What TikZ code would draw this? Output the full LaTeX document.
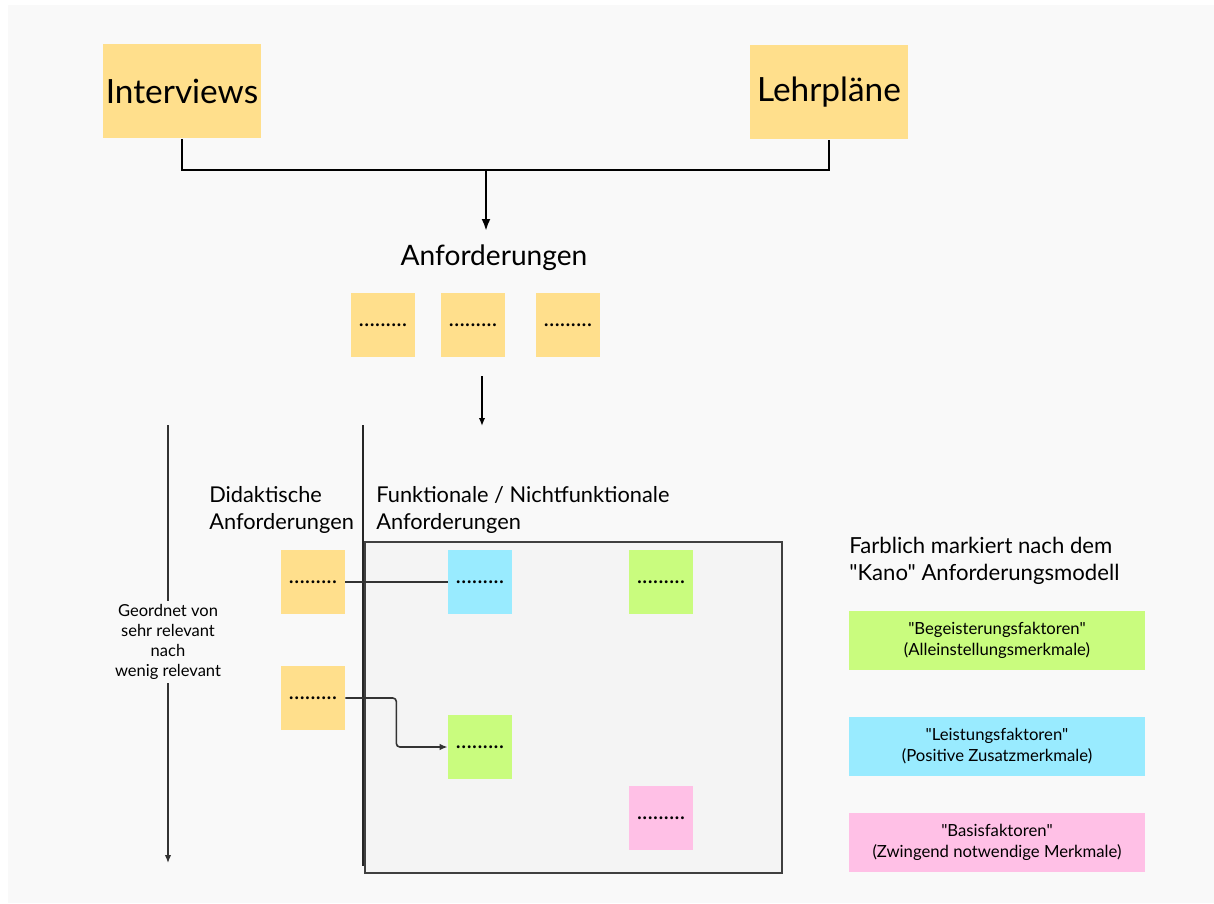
\documentclass[tikz,border=0pt]{standalone}
\usepackage{fontspec}
\setmainfont{Lato}[Ligatures=TeXOff]
\usepackage{xcolor}
\usetikzlibrary{arrows.meta,positioning}
\definecolor{bgcol}{HTML}{F9F9F9}
\definecolor{framefill}{HTML}{F4F4F4}
\definecolor{noteyellow}{HTML}{FFDF8C}
\definecolor{noteblue}{HTML}{99EBFF}
\definecolor{notegreen}{HTML}{C9FC7E}
\definecolor{notepink}{HTML}{FFC0E6}

\begin{document}
\begin{tikzpicture}[x=0.02cm,y=-0.02cm,
  source/.style={fill=noteyellow,minimum width=3.16cm,minimum height=1.9cm,inner sep=0pt,font=\fontsize{19}{23}\selectfont},
  note/.style={fill=#1,minimum width=1.28cm,minimum height=1.28cm,inner sep=0pt,font=\fontsize{13}{15}\selectfont},
  kano/.style={fill=#1,minimum width=5.92cm,minimum height=1.18cm,inner sep=0pt,align=center,font=\fontsize{9.5}{12}\selectfont},
  head/.style={anchor=north west,align=left,inner sep=0pt,font=\fontsize{12.4}{15.5}\selectfont},
  arr/.style={-{Latex[length=1.6mm,width=1.3mm]}}]
  % Background
  \fill[white] (0,0) rectangle (1214,903);
  \fill[bgcol] (8,5) rectangle (1214,903);
  % Sources
  \node[source] (iv) at (182,91) {Interviews};
  \node[source] (lp) at (829,92) {Lehrpläne};
  \coordinate (junc) at (486,170);
  \coordinate (anftop) at (486,231);
  \draw[line width=1.6pt] (iv.south) |- (junc) -| (lp.south);
  \draw[line width=1.6pt,-{Latex[length=2.4mm,width=1.8mm]}] (junc) -- (anftop);
  % Requirements
  \node[font=\fontsize{16}{19}\selectfont] (anf) at (494,258) {Anforderungen};
  \def\ry{325}
  \node[note=noteyellow] (ra) at (383,\ry) {.........};
  \node[note=noteyellow] (rb) at (473,\ry) {.........};
  \node[note=noteyellow] (rc) at (568,\ry) {.........};
  \coordinate (reqout) at (482,376);
  \coordinate (reqin) at (482,426);
  \draw[line width=0.9pt,arr] (reqout) -- (reqin);
  % Ranking axis and divider
  \coordinate (ranktop) at (168,425);
  \coordinate (rankend) at (168,863);
  \draw[line width=0.8pt,black!80,arr] (ranktop) -- (rankend);
  \node[fill=bgcol,align=center,inner sep=2pt,font=\fontsize{9.4}{11.4}\selectfont] (rank) at (168,642)
    {Geordnet von\\sehr relevant\\nach\\wenig relevant};
  % Frame for functional requirements
  \draw[fill=framefill,draw=black!75,line width=0.9pt] (365,542) rectangle (782,873);
  \coordinate (divtop) at (363,425);
  \coordinate (divend) at (363,866);
  \draw[line width=1.1pt,black!85] (divtop) -- (divend);
  % Headings
  \node[head] (didhead) at (209,486) {Didaktische\\Anforderungen};
  \node[head] (funhead) at (376,486) {Funktionale / Nichtfunktionale\\Anforderungen};
  % Notes
  \node[note=noteyellow] (d1) at (313,582) {.........};
  \node[note=noteyellow] (d2) at (313,698) {.........};
  \node[note=noteblue] (f1) at (480,582) {.........};
  \node[note=notegreen] (f2) at (661,582) {.........};
  \node[note=notegreen] (f3) at (480,747) {.........};
  \node[note=notepink] (f4) at (661,818) {.........};
  \draw[line width=0.9pt,black!80] (d1.east) -- (f1.west);
  \draw[line width=0.9pt,black!80,rounded corners=2pt,arr] (d2.east) -- ++(51,0) |- (f3.west);
  % Kano legend
  \node[head,font=\fontsize{12.6}{15}\selectfont] (kanohead) at (849,537)
    {Farblich markiert nach dem\\"Kano" Anforderungsmodell};
  \node[kano=notegreen] (kb) at (997,640) {"Begeisterungsfaktoren"\\(Alleinstellungsmerkmale)};
  \node[kano=noteblue] (kl) at (997,746) {"Leistungsfaktoren"\\(Positive Zusatzmerkmale)};
  \node[kano=notepink] (kz) at (997,842) {"Basisfaktoren"\\(Zwingend notwendige Merkmale)};
\end{tikzpicture}
\end{document}
